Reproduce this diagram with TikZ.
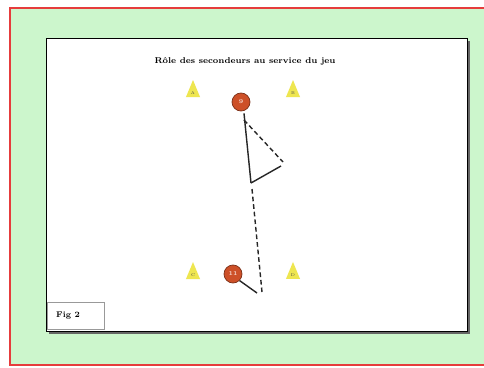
\documentclass[tikz,border=0pt]{standalone}
\usetikzlibrary{shapes.geometric}
\definecolor{bggreen}{RGB}{204,246,204}
\definecolor{frred}{RGB}{230,60,60}
\definecolor{plred}{RGB}{205,80,40}
\definecolor{coney}{RGB}{238,230,80}
\tikzset{
  player/.style={circle,fill=plred,draw=plred!60!black,line width=0.6pt,minimum size=18*0.03cm,inner sep=0pt,font=\tiny\bfseries,text=white!85!plred},
  cone/.style={isosceles triangle,shape border rotate=90,isosceles triangle apex angle=45,fill=coney,minimum height=17*0.03cm,minimum width=11*0.03cm,inner sep=0pt,font=\fontsize{3.5}{3.5}\selectfont,text=black!70},
  run/.style={line width=1.2pt,black!85},
  pass/.style={line width=1.2pt,black!85,dash pattern=on 4pt off 2.5pt}
}
\begin{document}
\begin{tikzpicture}[x=0.03cm,y=-0.03cm]
\useasboundingbox (0,0) rectangle (484,367);
\fill[white] (0,0) rectangle (484,367);
\fill[bggreen] (10,8) rectangle (500,365);
\draw[frred,line width=1.6pt] (500,8) -- (10,8) -- (10,365) -- (500,365);
% main panel
\fill[black!60] (49,41) rectangle (470,334);
\node[draw=black,line width=1.2pt,fill=white,minimum width=421*0.03cm,minimum height=293*0.03cm,inner sep=0pt,anchor=north west] (panel) at (46,38) {};
% caption
\node[draw=black!40,fill=white,line width=0.6pt,minimum width=57*0.03cm,minimum height=27*0.03cm,inner sep=0pt,anchor=south west] (fig) at (47,330) {};
\node[font=\fontsize{7}{7}\selectfont\bfseries,anchor=west] (figt) at (52,316) {Fig 2};
% title
\node[font=\fontsize{7.2}{8}\selectfont\bfseries] (title) at (245,61) {Rôle des secondeurs au service du jeu};
% cones
\node[cone] (c1) at (193,93) {A};
\node[cone] (c2) at (293,93) {B};
\node[cone] (c3) at (193,275) {C};
\node[cone] (c4) at (293,275) {D};
% players
\node[player] (p1) at (241,102) {9};
\node[player] (p2) at (233,274) {11};
% movements
\coordinate (a1) at (244,120);
\coordinate (a2) at (283,162);
\coordinate (b1) at (251,183);
\coordinate (b2) at (281,166);
\coordinate (d1) at (252,189);
\coordinate (d2) at (262,292);
\coordinate (e2) at (257,293);
\draw[pass] (a1) -- (a2);
\draw[run] (p1.south) ++(3,2) coordinate (r0) (r0) -- (b1);
\draw[run] (b1) -- (b2);
\draw[pass] (d1) -- (d2);
\draw[run] (p2.south east) -- (e2);
\end{tikzpicture}
\end{document}
